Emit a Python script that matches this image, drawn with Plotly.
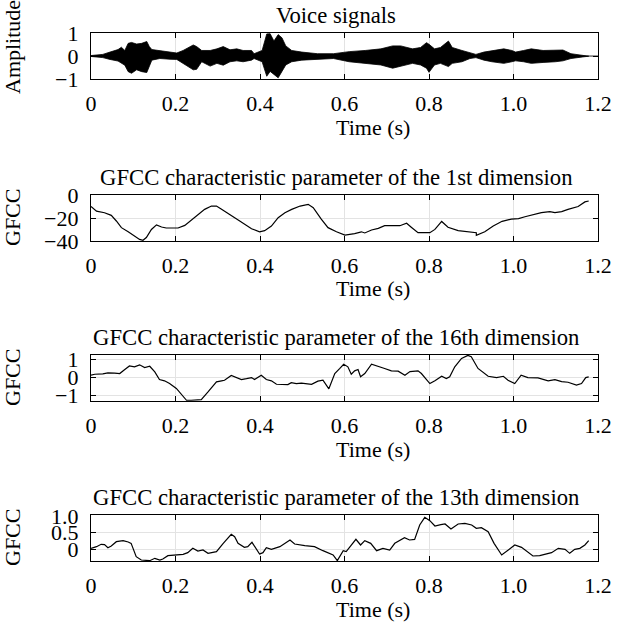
import plotly.graph_objects as go

# ---------------- data ----------------
# Voice signal envelope (upper / lower) vs time (s)
voice_t = [0.0, 0.028, 0.045, 0.064, 0.072, 0.080, 0.088, 0.096, 0.108, 0.120, 0.132, 0.138,
           0.144, 0.163, 0.187, 0.203, 0.218, 0.230, 0.242, 0.250, 0.262, 0.282, 0.298, 0.313,
           0.329, 0.345, 0.360, 0.380, 0.386, 0.405, 0.416, 0.424, 0.433, 0.443, 0.452, 0.461,
           0.475, 0.499, 0.536, 0.574, 0.611, 0.649, 0.686, 0.714, 0.733, 0.761, 0.780, 0.794,
           0.800, 0.813, 0.827, 0.846, 0.855, 0.878, 0.897, 0.911, 0.930, 0.949, 0.977, 0.996,
           1.005, 1.024, 1.042, 1.070, 1.099, 1.117, 1.136, 1.164, 1.178]
voice_upper = [0.02, 0.07, 0.17, 0.28, 0.38, 0.24, 0.55, 0.59, 0.52, 0.55, 0.63, 0.41,
               0.28, 0.24, 0.17, 0.13, 0.24, 0.35, 0.48, 0.41, 0.24, 0.24, 0.31, 0.41,
               0.27, 0.31, 0.24, 0.24, 0.10, 0.24, 0.96, 0.97, 0.65, 0.93, 0.79, 0.44,
               0.24, 0.17, 0.10, 0.10, 0.19, 0.24, 0.31, 0.44, 0.44, 0.31, 0.37, 0.58,
               0.51, 0.31, 0.37, 0.65, 0.37, 0.24, 0.13, 0.07, 0.17, 0.24, 0.31, 0.24,
               0.17, 0.24, 0.31, 0.24, 0.24, 0.26, 0.10, 0.04, 0.01]
voice_lower = [-0.02, -0.07, -0.15, -0.22, -0.32, -0.40, -0.68, -0.75, -0.60, -0.68, -0.72, -0.46,
               -0.18, -0.11, -0.14, -0.15, -0.32, -0.46, -0.60, -0.58, -0.25, -0.44, -0.32, -0.40,
               -0.25, -0.21, -0.25, -0.18, -0.11, -0.25, -0.88, -0.67, -0.80, -0.95, -0.67, -0.39,
               -0.25, -0.18, -0.15, -0.11, -0.25, -0.32, -0.39, -0.53, -0.46, -0.32, -0.39, -0.53,
               -0.71, -0.39, -0.32, -0.46, -0.32, -0.25, -0.11, -0.07, -0.18, -0.25, -0.32, -0.25,
               -0.21, -0.25, -0.32, -0.28, -0.25, -0.21, -0.11, -0.04, -0.01]

# GFCC 1st dimension
g1_t = [0.000, 0.013, 0.032, 0.048, 0.060, 0.072, 0.088, 0.104, 0.115, 0.123, 0.131, 0.143,
        0.155, 0.167, 0.178, 0.188, 0.206, 0.222, 0.245, 0.269, 0.285, 0.297, 0.309, 0.332,
        0.352, 0.380, 0.399, 0.411, 0.427, 0.443, 0.459, 0.475, 0.495, 0.514, 0.526, 0.545,
        0.561, 0.581, 0.601, 0.624, 0.640, 0.648, 0.664, 0.680, 0.695, 0.731, 0.747, 0.758,
        0.774, 0.802, 0.814, 0.830, 0.845, 0.869, 0.912, 0.912, 0.932, 0.952, 0.973, 0.995,
        1.012, 1.027, 1.047, 1.066, 1.086, 1.098, 1.114, 1.129, 1.153, 1.169, 1.178]
g1_v = [-10.0, -14.0, -15.4, -17.7, -22.6, -28.4, -32.0, -35.7, -38.6, -39.4, -37.0, -30.0,
        -26.0, -27.8, -28.7, -28.7, -28.7, -26.4, -19.7, -12.5, -9.6, -9.6, -12.5, -18.3,
        -22.6, -29.3, -32.0, -31.0, -27.0, -19.7, -15.4, -12.5, -9.6, -8.1, -11.0, -21.0,
        -28.4, -32.0, -34.8, -33.6, -32.0, -33.0, -30.4, -29.0, -26.7, -26.7, -24.6, -28.0,
        -32.8, -32.8, -29.9, -23.0, -28.0, -31.0, -32.8, -35.0, -32.0, -27.0, -22.9, -21.0,
        -20.6, -18.9, -16.8, -15.4, -14.5, -15.4, -14.5, -12.5, -10.0, -6.0, -5.2]

# GFCC 16th dimension
g16_t = [0.000, 0.009, 0.028, 0.040, 0.056, 0.068, 0.080, 0.091, 0.103, 0.115, 0.127, 0.139,
         0.151, 0.162, 0.174, 0.186, 0.202, 0.214, 0.226, 0.237, 0.261, 0.277, 0.297, 0.309,
         0.316, 0.332, 0.344, 0.356, 0.368, 0.380, 0.387, 0.403, 0.415, 0.427, 0.439, 0.466,
         0.474, 0.486, 0.498, 0.522, 0.537, 0.549, 0.563, 0.577, 0.589, 0.598, 0.608, 0.616,
         0.624, 0.632, 0.638, 0.648, 0.664, 0.680, 0.695, 0.711, 0.727, 0.743, 0.755, 0.774,
         0.782, 0.802, 0.814, 0.830, 0.841, 0.849, 0.861, 0.877, 0.892, 0.900, 0.916, 0.940,
         0.960, 0.976, 0.987, 1.003, 1.018, 1.034, 1.058, 1.082, 1.098, 1.114, 1.129, 1.149,
         1.161, 1.171, 1.178]
g16_v = [0.13, 0.18, 0.20, 0.26, 0.24, 0.22, 0.44, 0.64, 0.59, 0.70, 0.55, 0.62,
         0.31, -0.11, -0.18, -0.33, -0.60, -0.94, -1.25, -1.25, -1.21, -0.79, -0.24, -0.18,
         -0.15, 0.11, 0.00, -0.11, -0.06, 0.00, -0.11, 0.13, -0.11, -0.18, -0.37, -0.39,
         -0.28, -0.33, -0.31, -0.37, -0.20, -0.15, -0.62, 0.22, 0.50, 0.73, 0.59, 0.18,
         0.37, 0.44, 0.04, 0.22, 0.73, 0.59, 0.50, 0.37, 0.35, 0.13, 0.33, 0.37,
         0.22, -0.33, -0.18, 0.07, -0.06, 0.04, 0.59, 1.05, 1.22, 1.14, 0.50, 0.07,
         0.00, 0.07, -0.15, -0.33, 0.13, 0.00, -0.02, -0.18, -0.11, -0.22, -0.26, -0.42,
         -0.33, 0.00, 0.04]

# GFCC 13th dimension
g13_t = [0.000, 0.013, 0.024, 0.032, 0.040, 0.048, 0.060, 0.076, 0.088, 0.095, 0.107, 0.119,
         0.139, 0.151, 0.163, 0.170, 0.182, 0.198, 0.218, 0.229, 0.241, 0.253, 0.265, 0.277,
         0.297, 0.313, 0.323, 0.332, 0.340, 0.348, 0.363, 0.371, 0.381, 0.391, 0.399, 0.407,
         0.415, 0.427, 0.447, 0.471, 0.482, 0.506, 0.529, 0.549, 0.561, 0.573, 0.583, 0.589,
         0.597, 0.604, 0.614, 0.627, 0.638, 0.648, 0.662, 0.676, 0.691, 0.707, 0.719, 0.731,
         0.742, 0.754, 0.766, 0.778, 0.790, 0.802, 0.814, 0.828, 0.838, 0.852, 0.869, 0.885,
         0.901, 0.912, 0.924, 0.940, 0.954, 0.972, 0.989, 1.003, 1.019, 1.030, 1.046, 1.062,
         1.078, 1.090, 1.106, 1.122, 1.133, 1.145, 1.157, 1.169, 1.178]
g13_v = [0.03, 0.08, 0.15, 0.14, 0.05, 0.10, 0.23, 0.26, 0.22, 0.18, -0.22, -0.32,
         -0.34, -0.27, -0.32, -0.29, -0.19, -0.18, -0.15, -0.10, 0.03, -0.05, -0.02, -0.12,
         -0.07, 0.18, 0.31, 0.45, 0.38, 0.18, 0.06, 0.08, 0.21, 0.03, -0.14, -0.10,
         0.05, 0.00, 0.08, 0.28, 0.16, 0.11, 0.08, -0.04, -0.10, -0.17, -0.34, -0.20,
         -0.04, -0.07, 0.10, 0.30, 0.13, 0.26, 0.18, -0.04, 0.03, -0.02, 0.18, 0.28,
         0.35, 0.28, 0.30, 0.73, 0.96, 0.86, 0.70, 0.74, 0.76, 0.61, 0.76, 0.78,
         0.73, 0.63, 0.65, 0.53, 0.18, -0.17, 0.01, 0.13, 0.06, -0.04, -0.20, -0.19,
         -0.14, -0.10, 0.03, 0.00, -0.12, 0.00, 0.03, 0.13, 0.26]

x_tickvals = [0, 0.2, 0.4, 0.6, 0.8, 1.0, 1.2]
x_ticktext = ["0", "0.2", "0.4", "0.6", "0.8", "1.0", "1.2"]
x_label = "Time (s)"

titles = ["Voice signals",
          "GFCC characteristic parameter of the 1st dimension",
          "GFCC characteristic parameter of the 16th dimension",
          "GFCC characteristic parameter of the 13th dimension"]
ylabels = ["Amplitude", "GFCC", "GFCC", "GFCC"]
y_tickvals = [[-1, 0, 1], [-40, -20, 0], [-1, 0, 1], [0, 0.5, 1.0]]
y_ticktext = [["\u22121", "0", "1"], ["\u221240", "\u221220", "0"], ["\u22121", "0", "1"], ["0", "0.5", "1.0"]]
y_ranges = [[-1, 1], [-40, 0], [-1.29, 1.24], [-0.35, 1.03]]

# ---------------- figure ----------------
W, H = 622, 625
FONT = "Liberation Serif, Times New Roman, serif"
FS = 22
FS_TITLE = 22.7

# pixel boxes of each panel (top, bottom)
boxes = [(33, 79), (195, 241), (355, 401), (515, 561)]
ylabel_centers = [47, 218, 378, 538]
x0, x1 = 91, 598

fig = go.Figure()

# voice envelope as filled band
env_x = voice_t + voice_t[::-1]
env_y = voice_upper + voice_lower[::-1]
fig.add_trace(go.Scatter(x=env_x, y=env_y, mode="lines", fill="toself",
                         fillcolor="black", line=dict(color="black", width=0.8),
                         xaxis="x", yaxis="y", showlegend=False, hoverinfo="skip"))
fig.add_trace(go.Scatter(x=[0, 1.2], y=[0, 0], mode="lines",
                         line=dict(color="black", width=0.8),
                         xaxis="x", yaxis="y", showlegend=False, hoverinfo="skip"))

series = [(g1_t, g1_v), (g16_t, g16_v), (g13_t, g13_v)]
for i, (t, v) in enumerate(series, start=2):
    fig.add_trace(go.Scatter(x=t, y=v, mode="lines",
                             line=dict(color="black", width=1.2),
                             xaxis=f"x{i}", yaxis=f"y{i}", showlegend=False))

layout = dict(width=W, height=H, autosize=False,
              margin=dict(l=0, r=0, t=0, b=0),
              paper_bgcolor="white", plot_bgcolor="white",
              font=dict(family=FONT, size=FS, color="black"),
              showlegend=False)

annotations = []
for i in range(4):
    top, bot = boxes[i]
    sfx = "" if i == 0 else str(i + 1)
    dom_y = [1 - bot / H, 1 - top / H]
    layout[f"xaxis{sfx}"] = dict(
        domain=[x0 / W, x1 / W], range=[0, 1.2], anchor=f"y{sfx}",
        tickvals=x_tickvals, ticktext=x_ticktext,
        ticks="inside", ticklen=5, tickcolor="black", tickwidth=1,
        showline=True, linecolor="black", linewidth=1.2, mirror="ticks",
        showgrid=True, gridcolor="#e3e3e3", gridwidth=1, zeroline=False,
        ticklabelstandoff=4, automargin=False,
        tickfont=dict(size=FS))
    layout[f"yaxis{sfx}"] = dict(
        domain=dom_y, range=y_ranges[i], anchor=f"x{sfx}",
        tickvals=y_tickvals[i], ticktext=y_ticktext[i],
        ticks="inside", ticklen=5, tickcolor="black", tickwidth=1,
        showline=True, linecolor="black", linewidth=1.2, mirror="ticks",
        showgrid=True, gridcolor="#e3e3e3", gridwidth=1, zeroline=False,
        ticklabelstandoff=7, automargin=False,
        tickfont=dict(size=FS))
    # panel title
    annotations.append(dict(text=titles[i], xref="paper", yref="paper",
                            x=336 / W, y=1 - (top - 3.5) / H,
                            xanchor="center", yanchor="bottom", showarrow=False,
                            font=dict(size=FS_TITLE)))
    # x-axis label
    annotations.append(dict(text=x_label, xref="paper", yref="paper",
                            x=373 / W, y=1 - (bot + 48) / H,
                            xanchor="center", yanchor="middle", showarrow=False,
                            font=dict(size=FS)))
    # y-axis label
    annotations.append(dict(text=ylabels[i], xref="paper", yref="paper",
                            x=12 / W, y=1 - ylabel_centers[i] / H,
                            xanchor="center", yanchor="middle", textangle=-90,
                            showarrow=False, font=dict(size=FS)))

layout["annotations"] = annotations
fig.update_layout(**layout)
fig.write_html("out.html", config={"displayModeBar": False},
               post_script="document.body.style.margin='0';")
